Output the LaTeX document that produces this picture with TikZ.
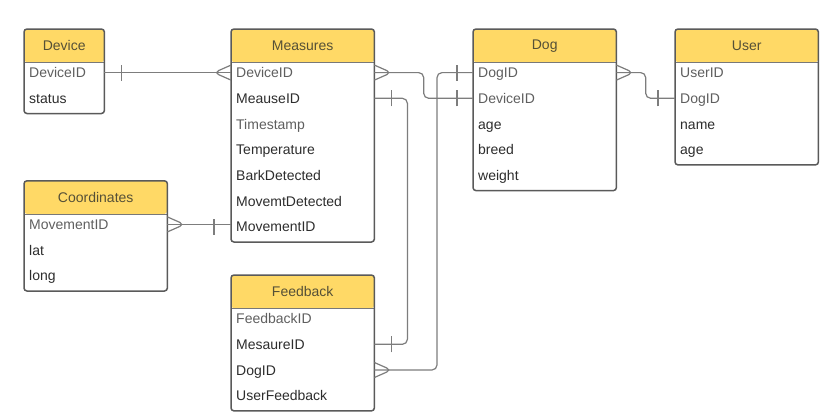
\documentclass[tikz,border=0pt]{standalone}
\usepackage{fontspec}
\setmainfont{Liberation Sans}
\usepackage{tikz}
\usetikzlibrary{positioning,calc}

\definecolor{hdryellow}{RGB}{255,217,102}
\definecolor{hdrtext}{RGB}{85,80,55}
\definecolor{keytext}{RGB}{95,95,95}
\definecolor{plaintext}{RGB}{45,45,45}
\definecolor{framegray}{RGB}{90,90,90}
\definecolor{sepgray}{RGB}{120,120,120}
\definecolor{conngray}{RGB}{125,125,125}

\begin{document}
\begin{tikzpicture}[
  x=1pt, y=1pt,
  node distance=5.3pt,
  hdr/.style={rectangle, fill=hdryellow, rounded corners=3pt, minimum width=143pt,
              minimum height=33pt, inner sep=0pt, text=hdrtext,
              font=\fontsize{14}{16}\selectfont},
  fld/.style={rectangle, inner xsep=5pt, inner ysep=0pt, text width=133pt,
              text height=15pt, text depth=5pt, align=left, text=plaintext,
              font=\fontsize{14}{16}\selectfont},
  key/.style={fld, text=keytext},
  frame/.style={draw=framegray, line width=1.5pt, rounded corners=3pt},
  sepline/.style={draw=sepgray, line width=0.8pt},
  conn/.style={draw=conngray, line width=1.2pt, rounded corners=5pt},
  erone/.pic={\draw[conn] (0,-8) -- (0,8);},
  ermany/.pic={\draw[conn] (17,7.5) -- (0,0) -- (17,-7.5);}
]
  \path[use as bounding box, fill=white] (0,0) rectangle (832,-416);

  % Device
  \node[hdr, minimum width=80pt, anchor=north west] (dev) at (24,-29) {Device};
  \node[key, text width=70pt, below=0pt of dev]     (dev-id)     {DeviceID};
  \node[fld, text width=70pt, below=of dev-id]      (dev-status) {status};
  \draw[sepline] (dev.south west) -- (dev.south east);
  \draw[frame] (dev.north west) rectangle ($(dev-status.south east)+(0,-5)$);

  % Measures
  \node[hdr, anchor=north west] (meas) at (231,-29) {Measures};
  \node[key, below=0pt of meas]  (meas-dev)  {DeviceID};
  \node[fld, below=of meas-dev]  (meas-mid)  {MeauseID};
  \node[key, below=of meas-mid]  (meas-time) {Timestamp};
  \node[fld, below=of meas-time] (meas-temp) {Temperature};
  \node[fld, below=of meas-temp] (meas-bark) {BarkDetected};
  \node[fld, below=of meas-bark] (meas-mdet) {MovemtDetected};
  \node[fld, below=of meas-mdet] (meas-mov)  {MovementID};
  \draw[sepline] (meas.south west) -- (meas.south east);
  \draw[frame] (meas.north west) rectangle ($(meas-mov.south east)+(0,-5)$);

  % Dog
  \node[hdr, anchor=north west] (dog) at (473,-29) {Dog};
  \node[key, below=0pt of dog]   (dog-id)     {DogID};
  \node[key, below=of dog-id]    (dog-dev)    {DeviceID};
  \node[fld, below=of dog-dev]   (dog-age)    {age};
  \node[fld, below=of dog-age]   (dog-breed)  {breed};
  \node[fld, below=of dog-breed] (dog-weight) {weight};
  \draw[sepline] (dog.south west) -- (dog.south east);
  \draw[frame] (dog.north west) rectangle ($(dog-weight.south east)+(0,-5)$);

  % User
  \node[hdr, anchor=north west] (user) at (675,-29) {User};
  \node[key, below=0pt of user]  (user-id)   {UserID};
  \node[key, below=of user-id]   (user-dog)  {DogID};
  \node[fld, below=of user-dog]  (user-name) {name};
  \node[fld, below=of user-name] (user-age)  {age};
  \draw[sepline] (user.south west) -- (user.south east);
  \draw[frame] (user.north west) rectangle ($(user-age.south east)+(0,-5)$);

  % Coordinates
  \node[hdr, anchor=north west] (coord) at (24,-180.8) {Coordinates};
  \node[key, below=0pt of coord] (coord-mov)  {MovementID};
  \node[fld, below=of coord-mov] (coord-lat)  {lat};
  \node[fld, below=of coord-lat] (coord-long) {long};
  \draw[sepline] (coord.south west) -- (coord.south east);
  \draw[frame] (coord.north west) rectangle ($(coord-long.south east)+(0,-5)$);

  % Feedback
  \node[hdr, anchor=north west] (fb) at (231,-275) {Feedback};
  \node[key, below=0pt of fb]  (fb-id)   {FeedbackID};
  \node[fld, below=of fb-id]   (fb-mid)  {MesaureID};
  \node[fld, below=of fb-mid]  (fb-dog)  {DogID};
  \node[fld, below=of fb-dog]  (fb-user) {UserFeedback};
  \draw[sepline] (fb.south west) -- (fb.south east);
  \draw[frame] (fb.north west) rectangle ($(fb-user.south east)+(0,-5)$);

  % relations
  \draw[conn] (dev-id.east) -- (meas-dev.west);
  \pic at ($(dev-id.east)+(17,0)$) {erone};
  \pic at ($(meas-dev.west)+(-17,0)$) {ermany};

  \draw[conn] (meas-dev.east) -| ($(meas-dev.east)!0.5!(dog-dev.west)$) |- (dog-dev.west);
  \pic[xscale=-1] at ($(meas-dev.east)+(17,0)$) {ermany};
  \pic at ($(dog-dev.west)+(-16,0)$) {erone};

  \draw[conn] (meas-mid.east) -| ($(fb-mid.east)+(33,0)$) -- (fb-mid.east);
  \pic at ($(meas-mid.east)+(17,0)$) {erone};
  \pic at ($(fb-mid.east)+(17,0)$) {erone};

  \draw[conn] (dog-id.west) -- ++(-36,0) |- (fb-dog.east);
  \pic at ($(dog-id.west)+(-16,0)$) {erone};
  \pic[xscale=-1] at ($(fb-dog.east)+(17,0)$) {ermany};

  \draw[conn] (dog-id.east) -| ($(dog-id.east)!0.5!(user-dog.west)$) |- (user-dog.west);
  \pic[xscale=-1] at ($(dog-id.east)+(17,0)$) {ermany};
  \pic at ($(user-dog.west)+(-17,0)$) {erone};

  \draw[conn] (coord-mov.east) -- (coord-mov.east -| meas-mov.west);
  \pic[xscale=-1] at ($(coord-mov.east)+(17,0)$) {ermany};
  \pic at ($(meas-mov.west)+(-17,0)$) {erone};
\end{tikzpicture}
\end{document}
